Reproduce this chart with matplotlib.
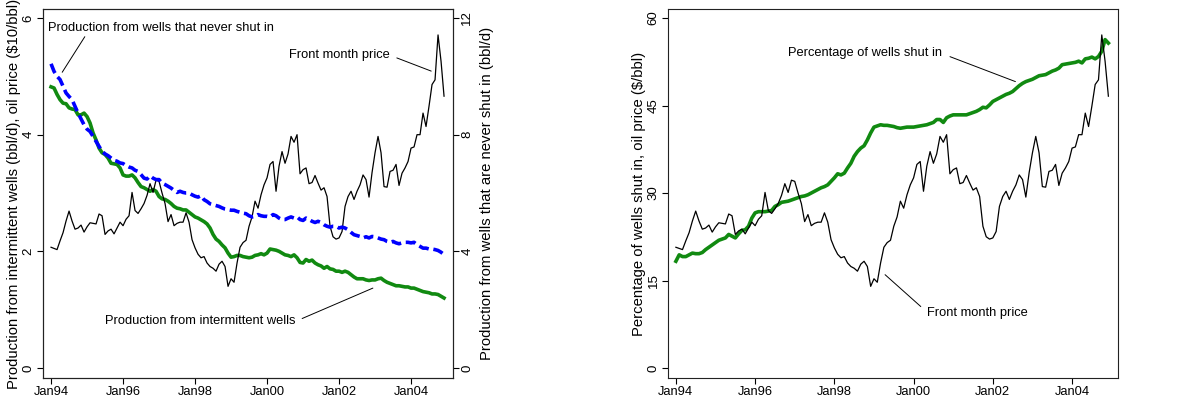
import numpy as np
import matplotlib.pyplot as plt

plt.rcParams['font.family'] = ['Liberation Sans', 'DejaVu Sans']

# monthly series, Jan 1994 .. Dec 2004
months = np.arange(132)
t = months / 12.0  # years since Jan94

# front month oil price ($/bbl)
price = [20.7, 20.5, 20.3, 21.8, 23.2, 25.2, 26.9, 25.2, 23.8, 24.0, 24.5, 23.3,
         24.2, 24.9, 24.8, 24.7, 26.4, 26.1, 22.9, 23.5, 23.8, 23.0, 24.0, 25.0,
         24.4, 25.5, 26.1, 30.1, 27.0, 26.5, 27.3, 28.2, 29.6, 31.6, 30.1, 32.2,
         32.0, 30.0, 28.2, 25.1, 26.3, 24.4, 24.8, 25.0, 25.0, 26.6, 25.0, 22.0,
         20.6, 19.5, 18.9, 19.1, 18.0, 17.4, 17.1, 16.6, 17.8, 18.3, 17.4, 14.0,
         15.3, 14.7, 18.0, 20.7, 21.5, 21.9, 24.3, 25.9, 28.6, 27.4, 29.7, 31.4,
         32.6, 34.9, 35.4, 30.3, 34.6, 37.1, 35.1, 36.7, 39.7, 38.7, 40.0, 33.3,
         34.0, 34.3, 31.6, 31.8, 33.0, 31.7, 30.5, 30.9, 29.4, 24.3, 22.5, 22.1,
         22.3, 23.4, 27.7, 29.4, 30.3, 28.9, 30.3, 31.4, 33.1, 32.3, 29.3, 33.5,
         36.9, 39.7, 36.9, 31.1, 31.0, 33.7, 33.9, 34.9, 31.3, 33.4, 34.3, 35.4,
         37.7, 37.9, 40.0, 40.0, 43.7, 41.4, 44.9, 48.6, 49.4, 57.1, 52.6, 46.6]

# production from intermittent wells (bbl/d)
prod_intermittent = [4.82, 4.80, 4.69, 4.60, 4.54, 4.53, 4.46, 4.44, 4.43, 4.34, 4.34, 4.37,
                     4.31, 4.20, 4.03, 3.91, 3.77, 3.69, 3.66, 3.60, 3.51, 3.50, 3.49, 3.43,
                     3.31, 3.29, 3.29, 3.31, 3.26, 3.18, 3.11, 3.09, 3.06, 3.03, 3.06, 3.03,
                     2.94, 2.90, 2.89, 2.86, 2.82, 2.77, 2.74, 2.73, 2.71, 2.71, 2.67, 2.63,
                     2.59, 2.57, 2.54, 2.51, 2.47, 2.40, 2.29, 2.21, 2.17, 2.11, 2.06, 1.97,
                     1.90, 1.91, 1.93, 1.93, 1.91, 1.90, 1.89, 1.90, 1.93, 1.94, 1.96, 1.94,
                     1.97, 2.04, 2.03, 2.02, 2.00, 1.97, 1.94, 1.93, 1.91, 1.94, 1.89, 1.81,
                     1.80, 1.86, 1.83, 1.85, 1.80, 1.77, 1.75, 1.71, 1.74, 1.70, 1.69, 1.66,
                     1.66, 1.64, 1.66, 1.64, 1.60, 1.56, 1.53, 1.53, 1.53, 1.51, 1.50, 1.51,
                     1.51, 1.53, 1.54, 1.50, 1.47, 1.45, 1.43, 1.41, 1.41, 1.40, 1.39, 1.39,
                     1.37, 1.37, 1.35, 1.33, 1.31, 1.30, 1.29, 1.27, 1.27, 1.26, 1.23, 1.20]

# production from wells that never shut in (bbl/d)
prod_never = [10.43, 10.17, 10.00, 9.89, 9.66, 9.43, 9.31, 9.20, 8.97, 8.74, 8.54, 8.34,
              8.19, 8.11, 7.94, 7.77, 7.60, 7.43, 7.34, 7.28, 7.20, 7.12, 7.09, 7.03,
              7.01, 6.94, 6.89, 6.86, 6.78, 6.74, 6.63, 6.51, 6.48, 6.59, 6.51, 6.46,
              6.46, 6.34, 6.29, 6.23, 6.17, 6.09, 6.02, 6.06, 6.02, 6.00, 6.00, 5.94,
              5.89, 5.86, 5.91, 5.77, 5.71, 5.63, 5.60, 5.57, 5.54, 5.49, 5.45, 5.43,
              5.41, 5.41, 5.37, 5.34, 5.31, 5.29, 5.22, 5.18, 5.20, 5.26, 5.22, 5.20,
              5.20, 5.18, 5.26, 5.22, 5.14, 5.09, 5.09, 5.14, 5.18, 5.14, 5.18, 5.09,
              5.06, 5.14, 5.09, 5.03, 4.99, 5.03, 4.99, 4.91, 4.86, 4.83, 4.86, 4.86,
              4.80, 4.83, 4.80, 4.74, 4.65, 4.57, 4.54, 4.51, 4.46, 4.50, 4.46, 4.51,
              4.50, 4.46, 4.42, 4.40, 4.34, 4.31, 4.34, 4.29, 4.26, 4.29, 4.31, 4.31,
              4.29, 4.31, 4.23, 4.17, 4.11, 4.11, 4.08, 4.08, 4.06, 4.03, 3.97, 3.89]

# percentage of wells shut in
pct_shut = [18.3, 19.4, 19.1, 19.1, 19.4, 19.7, 19.6, 19.6, 19.8, 20.3, 20.7, 21.1,
            21.5, 21.9, 22.1, 22.3, 22.9, 22.6, 22.3, 23.0, 23.6, 23.7, 24.3, 25.7,
            26.6, 26.8, 26.8, 26.8, 26.9, 27.0, 27.7, 28.0, 28.4, 28.5, 28.6, 28.8,
            29.0, 29.2, 29.4, 29.5, 29.7, 30.0, 30.3, 30.6, 30.9, 31.1, 31.4, 32.0,
            32.6, 33.3, 33.1, 33.4, 34.3, 35.1, 36.3, 37.1, 37.7, 38.1, 39.1, 40.3,
            41.3, 41.5, 41.7, 41.6, 41.6, 41.5, 41.4, 41.2, 41.1, 41.2, 41.3, 41.3,
            41.3, 41.4, 41.5, 41.6, 41.7, 41.9, 42.1, 42.6, 42.6, 42.1, 42.9, 43.2,
            43.4, 43.4, 43.4, 43.4, 43.4, 43.6, 43.8, 44.0, 44.3, 44.7, 44.6, 45.1,
            45.7, 46.0, 46.3, 46.6, 46.9, 47.1, 47.4, 47.9, 48.4, 48.8, 49.1, 49.3,
            49.5, 49.8, 50.1, 50.2, 50.3, 50.6, 50.9, 51.1, 51.4, 52.0, 52.1, 52.2,
            52.3, 52.4, 52.6, 52.3, 53.0, 53.1, 53.3, 53.0, 53.4, 54.3, 56.3, 55.7]

year_ticks = [0, 2, 4, 6, 8, 10]
year_labels = ['Jan94', 'Jan96', 'Jan98', 'Jan00', 'Jan02', 'Jan04']

GREEN = '#118a11'
BLUE = '#0000ff'
FS_H = 9.3     # horizontal text
FS_V = 10.7    # rotated axis titles
FS_T = 9.5     # rotated y tick labels

fig = plt.figure(figsize=(11.96, 4.05), dpi=100)


def style_axis(ax):
    ax.tick_params(axis='both', length=4, width=0.8, direction='out', pad=2)
    ax.tick_params(axis='x', labelsize=FS_H)
    ax.tick_params(axis='y', labelrotation=90, labelsize=FS_T)
    for lab in ax.get_yticklabels():
        lab.set_va('center')
    for s in ax.spines.values():
        s.set_linewidth(0.8)
        s.set_color('#222222')


def label(ax, text, xy, xytext, ha, relpos, shrinkA=3):
    ax.annotate(text, xy=xy, xytext=xytext, fontsize=FS_H,
                va='center', ha=ha,
                arrowprops=dict(arrowstyle='-', lw=0.7, color='black',
                                shrinkA=shrinkA, shrinkB=0, relpos=relpos))


# ---------------- left panel ----------------
ax1 = fig.add_axes([0.036, 0.0667, 0.3428, 0.911])
ax2 = ax1.twinx()

ax1.plot(t, np.array(price) / 10.0, color='black', lw=0.9, zorder=3)
ax1.plot(t, prod_intermittent, color=GREEN, lw=2.6, zorder=2)
ax2.plot(t, prod_never, color=BLUE, lw=2.6, ls=(0, (2.8, 1.3)))

ax1.set_xlim(-0.222, 11.167)
ax1.set_ylim(-0.171, 6.154)
ax2.set_ylim(-0.342, 12.308)
ax1.set_yticks([0, 2, 4, 6])
ax2.set_yticks([0, 4, 8, 12])
ax1.set_xticks(year_ticks)
ax1.set_xticklabels(year_labels)
ax1.set_ylabel('Production from intermittent wells (bbl/d), oil price ($10/bbl)', fontsize=FS_V, labelpad=1)
ax2.set_ylabel('Production from wells that are never shut in (bbl/d)', fontsize=FS_V, labelpad=5)
style_axis(ax1)
style_axis(ax2)

label(ax1, 'Production from wells that never shut in', (0.31, 5.07), (-0.08, 5.83), 'left', (0.17, 0.0), 0)
label(ax1, 'Front month price', (10.56, 5.09), (9.42, 5.37), 'right', (1.0, 0.45))
label(ax1, 'Production from intermittent wells', (8.94, 1.37), (1.5, 0.81), 'left', (1.0, 0.45))

# ---------------- right panel ----------------
ax3 = fig.add_axes([0.5585, 0.0667, 0.3763, 0.911])
ax3.plot(t, price, color='black', lw=0.9, zorder=3)
ax3.plot(t, pct_shut, color=GREEN, lw=2.6, zorder=2)

ax3.set_xlim(-0.2, 11.16)
ax3.set_ylim(-1.71, 61.54)
ax3.set_yticks([0, 15, 30, 45, 60])
ax3.set_xticks(year_ticks)
ax3.set_xticklabels(year_labels)
ax3.set_ylabel('Percentage of wells shut in, oil price ($/bbl)', fontsize=FS_V, labelpad=1)
style_axis(ax3)

label(ax3, 'Percentage of wells shut in', (8.57, 49.1), (2.83, 54.0), 'left', (1.0, 0.45), 4)
label(ax3, 'Front month price', (5.28, 16.0), (6.33, 9.43), 'left', (0.0, 0.6))

fig.savefig('out.png', dpi=100)
